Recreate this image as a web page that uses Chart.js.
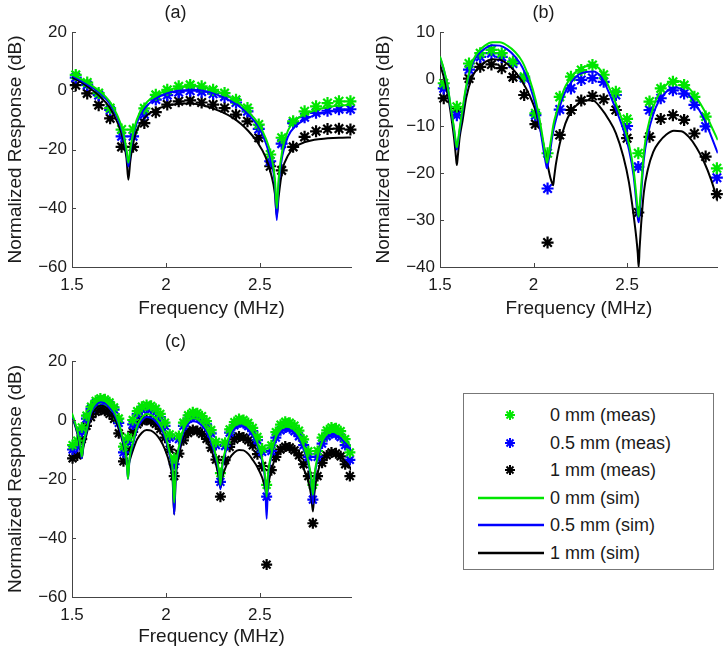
<!DOCTYPE html>
<html>
<head>
<meta charset="utf-8">
<script src="https://cdn.jsdelivr.net/npm/chart.js@4.4.0/dist/chart.umd.min.js"></script>
<style>
  body { margin: 0; background: #fff; width: 726px; height: 648px; position: relative; overflow: hidden;
         font-family: "Liberation Sans", Arial, Helvetica, sans-serif; }
  canvas { position: absolute; }
  #legend { position: absolute; left: 463px; top: 393px; width: 251px; height: 177px;
            border: 1px solid #777; box-sizing: border-box; background: #fff; }
  .row { position: absolute; left: 0; width: 100%; height: 24px; }
  .row svg { position: absolute; left: 13px; top: 0; }
  .row span { position: absolute; left: 86px; top: 0; line-height: 24px; font-size: 18px; color: #1a1a1a; white-space: nowrap; }
</style>
</head>
<body>
<canvas id="pa" width="360" height="322" style="left:0;top:0"></canvas>
<canvas id="pb" width="358" height="322" style="left:368px;top:0"></canvas>
<canvas id="pc" width="360" height="326" style="left:0;top:322px"></canvas>
<div id="legend"></div>
<script>
// tick labels
const xTickVals = [1.5, 2, 2.5];
const yTicksA = [20, 0, -20, -40, -60];
const yTicksB = [10, 0, -10, -20, -30, -40];
const yTicksC = [20, 0, -20, -40, -60];

const measLabels = ['0 mm (meas)', '0.5 mm (meas)', '1 mm (meas)'];
const simLabels = ['0 mm (sim)', '0.5 mm (sim)', '1 mm (sim)'];
const seriesColors = ['rgb(0,230,0)', 'rgb(0,0,255)', 'rgb(0,0,0)'];

// ---- panel (a) ----
const freqSimA = [1.5, 1.55, 1.6, 1.65, 1.7, 1.74, 1.77, 1.79, 1.8, 1.81, 1.83, 1.86, 1.9, 1.95, 2.0, 2.05, 2.1, 2.15, 2.2, 2.25,
  2.3, 2.35, 2.4, 2.44, 2.49, 2.53, 2.56, 2.58, 2.59, 2.6, 2.62, 2.65, 2.69, 2.74, 2.79, 2.84, 2.89, 2.94, 2.985];
const simA0 = [5.5, 3.9, 2.0, -0.3, -3.6, -8.2, -13.5, -20, -24.5, -20, -13, -7.5, -3.8, -1.4, 0, 0.9, 1.4, 1.6, 1.2, 0.4,
  -0.9, -2.6, -4.8, -7.2, -11, -16, -22, -30, -40, -30, -20, -13.5, -10, -8, -6.7, -5.9, -5.3, -5.0, -4.8];
const simA05 = [5.1, 3.4, 1.4, -0.9, -4.3, -9, -14.5, -21, -25.8, -21, -14, -8.8, -5, -2.5, -1.0, -0.2, 0.2, 0.3, -0.1, -0.9,
  -2.1, -3.7, -5.8, -8.2, -12, -17.5, -24, -32, -44, -32, -22, -15.5, -12, -9.8, -8.4, -7.5, -7.0, -6.7, -6.5];
const simA1 = [4.6, 2.8, 0.6, -2, -5.6, -10.5, -16, -23, -30.3, -24, -16.5, -11.5, -8.3, -6.3, -5.2, -4.6, -4.3, -4.4, -5.0, -6.0,
  -7.3, -9, -11.3, -13.8, -17.8, -22.5, -28.5, -35, -42.7, -36, -27, -22, -19, -17.5, -16.7, -16.3, -16.1, -16.0, -15.9];
const freqMeasA = [1.520, 1.581, 1.642, 1.703, 1.764, 1.825, 1.885, 1.946, 2.007, 2.068, 2.129, 2.190, 2.251, 2.312, 2.373,
  2.434, 2.494, 2.555, 2.616, 2.677, 2.738, 2.799, 2.860, 2.921, 2.982];
const measA0 = [5.4, 2.8, -0.8, -5.9, -13.2, -13.2, -6.0, -1.4, 0.3, 1.5, 2.0, 1.5, 0.3, -0.8, -3.1, -5.9, -11.5, -21.7, -16.0,
  -10.4, -7.0, -5.3, -4.2, -3.6, -3.6];
const measA05 = [4.5, 2.0, -1.5, -6.5, -15.5, -15.5, -8.0, -3.0, -1.5, -0.5, 0.0, -0.3, -1.0, -2.0, -4.0, -7.0, -13.0, -24.0, -18.0,
  -11.0, -9.0, -7.5, -6.8, -6.3, -6.3];
const measA1 = [1.9, -0.9, -4.9, -9.4, -19.1, -19.1, -11.0, -7.3, -4.7, -3.6, -3.3, -4.0, -4.7, -5.9, -8.1, -10.4, -16.0, -25.7, -27.1,
  -19.1, -15.7, -13.8, -13.0, -12.9, -13.2];

// ---- panel (b) ----
const freqSimB = [1.5, 1.52, 1.54, 1.56, 1.575, 1.585, 1.59, 1.595, 1.605, 1.62, 1.64, 1.67, 1.7, 1.74, 1.78, 1.82, 1.86, 1.9, 1.94, 1.98,
  2.01, 2.035, 2.055, 2.065, 2.072, 2.08, 2.09, 2.1, 2.105, 2.11, 2.12, 2.14, 2.17, 2.2, 2.24, 2.28, 2.32, 2.36, 2.4, 2.44,
  2.48, 2.51, 2.535, 2.55, 2.557, 2.562, 2.567, 2.575, 2.59, 2.61, 2.64, 2.67, 2.71, 2.75, 2.79, 2.83, 2.87, 2.91, 2.95, 2.985];
const simB0 = [4.8, 2.2, -1.3, -6.5, -10.5, -13.5, -14.5, -13.5, -10.5, -6.5, -1.5, 3.3, 5.6, 7.1, 7.8, 7.8, 7.1, 5.8, 3.7, -0.2,
  -4.3, -9.2, -14, -16.5, -17.8, -16.3, -13.8, -11.2, -10, -9, -7.5, -4.8, -1.6, 0.3, 2, 2.7, 2.8, 1.8, -1.4, -5.2,
  -9.5, -13.8, -19.4, -25, -28, -29.3, -27, -23, -15.5, -10.5, -6, -3.2, -1.2, -0.3, -0.6, -1.9, -3.9, -6.5, -10, -13];
const simB05 = [4.6, 2.0, -1.6, -6.8, -10.8, -14, -15, -14, -11, -7, -2, 2.8, 5.0, 6.5, 7.2, 7.1, 6.3, 4.8, 2.5, -1.4,
  -5.5, -10.5, -15.5, -17.8, -19, -17.5, -15, -12.3, -11.2, -10.2, -8.6, -5.9, -2.7, -0.8, 0.9, 1.5, 1.6, 0.5, -2.6, -6.4,
  -10.7, -15, -20.6, -26.5, -29.5, -30.5, -28.5, -24.5, -17, -12, -7.5, -4.7, -2.7, -1.8, -2.1, -3.4, -5.6, -8.4, -12.2, -15.8];
const simB1 = [3.0, 0.5, -3, -8, -12.5, -16.5, -18.3, -16.5, -12.5, -9, -4, 0.2, 2.2, 3.6, 4.2, 4.1, 3.2, 1.6, -0.6, -3.6,
  -6.6, -10.5, -14.2, -16.2, -17.6, -19.2, -21, -22.2, -22.6, -21, -18, -13.8, -9.5, -7, -5.2, -4.5, -4.6, -6.2, -8.5, -11.5,
  -16.5, -22, -29, -34, -37, -40, -36, -31, -24, -19.4, -15.5, -13.5, -11.8, -11, -11.1, -12.3, -14.5, -17.5, -21.5, -26];
const freqMeasB = [1.52, 1.59, 1.655, 1.715, 1.775, 1.83, 1.89, 1.95, 2.01, 2.075, 2.14, 2.20, 2.255, 2.315, 2.375,
  2.44, 2.50, 2.56, 2.62, 2.68, 2.745, 2.805, 2.86, 2.92, 2.98];
const measB0 = [-0.9, -5.9, 3.3, 5.5, 6.2, 5.5, 3.7, 0.5, -7.3, -15.8, -3.8, 0.5, 1.9, 3.0, 0.9, -2.7, -8.5, -15.8, -4.8,
  -2.0, -0.6, -1.3, -3.8, -8.0, -19.0];
const measB05 = [-2.0, -7.7, 2.0, 4.7, 5.5, 4.7, 3.3, 0.2, -7.7, -23.3, -6.5, -2.0, -0.2, 0.2, -0.6, -3.4, -10.0, -18.7, -6.6,
  -4.1, -2.4, -3.1, -5.5, -10.1, -21.0];
const measB1 = [-4.1, -7.0, 0.1, 2.6, 3.1, 2.3, 0.4, -3.4, -9.6, -34.8, -11.9, -6.6, -4.6, -3.6, -4.3, -6.6, -12.6, -28.4, -12.3,
  -8.5, -7.7, -8.7, -11.6, -16.5, -24.5];

// ---- panel (c) ----
const freqSimC = [1.5, 1.528, 1.544, 1.552, 1.560, 1.577, 1.601, 1.626, 1.651, 1.675,
  1.700, 1.724, 1.749, 1.774, 1.790, 1.798, 1.806, 1.823, 1.847, 1.872,
  1.897, 1.921, 1.946, 1.970, 1.995, 2.020, 2.036, 2.044, 2.052, 2.069,
  2.093, 2.118, 2.143, 2.167, 2.192, 2.216, 2.241, 2.266, 2.282, 2.290,
  2.298, 2.315, 2.339, 2.364, 2.389, 2.413, 2.438, 2.462, 2.487, 2.512,
  2.528, 2.536, 2.544, 2.561, 2.585, 2.610, 2.635, 2.659, 2.684, 2.708,
  2.733, 2.758, 2.774, 2.782, 2.790, 2.807, 2.831, 2.856, 2.881, 2.905,
  2.930, 2.954, 2.979, 2.985];
const simC0 = [2.3, -3.5, -8.5, -12.4, -8, -3.5, 3, 5.8, 6.8, 6.5,
  5, 3, -1, -7, -13, -20, -13, -8, -2, 0.8,
  2.0, 1.7, 0.5, -1.5, -5, -11, -17, -28, -17, -9,
  -3.2, -0.4, 0.6, 0.3, -1, -3, -6.5, -12, -17, -22,
  -16, -10.5, -4.8, -2.1, -1.1, -1.2, -2.3, -4.3, -7.8, -13,
  -19, -26, -18, -11.5, -5.8, -3.2, -2.3, -2.4, -3.4, -5.3,
  -8.8, -14, -20, -25.4, -19, -12.5, -7.3, -4.8, -4.0, -4.2,
  -5.2, -6.8, -8.5, -9];
const simC05 = [1.8, -4, -9, -13, -8.5, -4, 2.3, 5, 6, 5.7,
  4.2, 2.2, -1.8, -7.8, -13.5, -20, -13.5, -8.8, -3, -0.2,
  1.0, 0.7, -0.5, -2.5, -6, -12, -18.5, -32, -18.5, -10,
  -4.2, -1.4, -0.4, -0.7, -2, -4, -7.5, -13, -18, -23.5,
  -17, -11.5, -5.8, -3.1, -2.1, -2.2, -3.3, -5.3, -8.8, -14,
  -21, -33.5, -20, -12.5, -6.8, -4.2, -3.3, -3.4, -4.4, -6.3,
  -9.8, -15, -21, -28.5, -20, -13.5, -8.3, -5.8, -5.0, -5.2,
  -6.2, -7.8, -9.5, -10.3];
const simC1 = [1.3, -4.5, -9.5, -13, -9.5, -5, 1, 3.8, 4.8, 4.5,
  3, 1, -3, -8.5, -13, -16, -14, -10.5, -6.5, -4.3,
  -3.4, -3.6, -4.8, -6.8, -10, -15, -21, -32, -20, -12,
  -6, -3.3, -2.5, -2.8, -4.2, -6.5, -10, -15, -19.5, -23,
  -20, -16.5, -13, -11, -10.2, -10.3, -11.5, -13.5, -16, -19.5,
  -23, -25, -22, -17, -12.5, -10.3, -9.6, -9.8, -11, -13,
  -16.5, -21, -26, -31, -25, -18, -13.5, -11.8, -11.3, -11.5,
  -12.5, -14, -16, -17];
const freqMeasC = [1.503, 1.528, 1.552, 1.577, 1.601, 1.626, 1.651, 1.675, 1.700, 1.724,
  1.749, 1.774, 1.798, 1.823, 1.847, 1.872, 1.897, 1.921, 1.946, 1.970,
  1.995, 2.020, 2.044, 2.069, 2.093, 2.118, 2.143, 2.167, 2.192, 2.216,
  2.241, 2.266, 2.290, 2.315, 2.339, 2.364, 2.389, 2.413, 2.438, 2.462,
  2.487, 2.512, 2.536, 2.561, 2.585, 2.610, 2.635, 2.659, 2.684, 2.708,
  2.733, 2.758, 2.782, 2.807, 2.831, 2.856, 2.881, 2.905, 2.930, 2.954, 2.979];
const measC0 = [-8.5, -7, -2.5, 1.5, 4.5, 6.5, 7.3, 7.0, 6.0, 4.3, 0.5, -9, -6, 0, 3.0, 4.5, 5.1, 4.8, 3.8, 2.1, -0.9, -4.9, -13,
  -5.4, -0.9, 1.6, 2.6, 2.3, 1.3, -0.4, -3.4, -7.4, -18,
  -7.7, -3.2, -0.7, 0.3, 0, -1.0, -2.7, -5.7, -9.7, -22,
  -8.6, -4.1, -1.6, -0.6, -0.9, -1.9, -3.6, -6.6, -10.6, -22,
  -10.5, -6, -3.5, -2.5, -2.8, -3.8, -6.5, -11];
const measC05 = [-10, -9, -4, 0.5, 3.8, 5.7, 6.5, 6.2, 5.2, 3.5, -1, -11, -7.5, -1.5, 2.0, 3.5, 4.0, 3.7, 2.7, 1.0, -2.0, -6.0, -15,
  -6.5, -2.0, 0.5, 1.5, 1.2, 0.2, -1.5, -4.5, -8.5, -21,
  -8.8, -4.3, -1.8, -0.8, -1.1, -2.1, -3.8, -6.8, -10.8, -26,
  -10.5, -6.0, -3.5, -2.5, -2.8, -3.8, -5.5, -8.5, -12.5, -27,
  -12.5, -8.0, -5.5, -4.5, -4.8, -5.8, -8.5, -13.5];
const measC1 = [-13, -12, -6.5, -2, 1, 2.8, 3.4, 3.1, 2.1, 0.4, -4.5, -14, -10, -4, -1.5, -0.3, 0, -0.3, -1.3, -3, -6, -10, -19,
  -11.4, -6.9, -4.4, -3.4, -3.7, -4.7, -6.4, -9.4, -13.4, -26,
  -13.6, -9.1, -6.6, -5.6, -5.9, -6.9, -8.6, -11.6, -15.6, -49,
  -17, -12.5, -10, -9, -9.3, -10.3, -12, -15, -19, -35,
  -19, -14.5, -12, -11, -11.3, -12.3, -15, -19];

Chart.defaults.font.family = '"Liberation Sans", Arial, Helvetica, sans-serif';
Chart.defaults.color = '#1a1a1a';

function fmt(v) {
  return v < 0 ? '\u2212' + Math.abs(v) : String(v);
}

// matlab style ticks pointing into the plot
const inwardTicks = {
  id: 'inwardTicks',
  afterDraw(chart) {
    const { ctx, chartArea, scales } = chart;
    ctx.save();
    ctx.strokeStyle = '#444';
    ctx.lineWidth = 1;
    ctx.beginPath();
    scales.x.ticks.forEach(t => {
      const px = Math.round(scales.x.getPixelForValue(t.value)) + 0.5;
      ctx.moveTo(px, chartArea.bottom);
      ctx.lineTo(px, chartArea.bottom - 4);
    });
    scales.y.ticks.forEach(t => {
      const py = Math.round(scales.y.getPixelForValue(t.value)) + 0.5;
      ctx.moveTo(chartArea.left, py);
      ctx.lineTo(chartArea.left + 4, py);
    });
    ctx.stroke();
    ctx.restore();
  }
};

function panel(canvasId, opt) {
  const datasets = [];
  for (let i = 0; i < 3; i++) {
    datasets.push({
      label: simLabels[i],
      data: opt.simX.map((x, j) => ({ x: x, y: opt.sim[i][j] })),
      borderColor: seriesColors[i],
      borderWidth: 2,
      pointRadius: 0,
      cubicInterpolationMode: 'monotone',
      fill: false
    });
  }
  for (let i = 0; i < 3; i++) {
    datasets.push({
      label: measLabels[i],
      data: opt.measX.map((x, j) => ({ x: x, y: opt.meas[i][j] })),
      showLine: false,
      pointStyle: 'star',
      pointRadius: opt.starSize,
      pointHoverRadius: opt.starSize,
      borderColor: seriesColors[i],
      backgroundColor: seriesColors[i],
      pointBorderWidth: 2.2,
      clip: 8
    });
  }

  return new Chart(document.getElementById(canvasId), {
    type: 'line',
    data: { datasets: datasets },
    options: {
      responsive: false,
      animation: false,
      devicePixelRatio: 1,
      layout: { padding: { left: 0, right: opt.rightPad, top: 0, bottom: 0 } },
      plugins: {
        legend: { display: false },
        tooltip: { enabled: false },
        title: {
          display: true,
          text: opt.title,
          font: { size: 18, weight: 'normal' },
          color: '#1a1a1a',
          padding: opt.titlePad
        }
      },
      scales: {
        x: {
          type: 'linear',
          min: 1.5,
          max: 2.985,
          afterBuildTicks: s => { s.ticks = xTickVals.map(v => ({ value: v })); },
          afterFit: s => { s.height = opt.xAxisHeight; },
          grid: { display: false, drawTicks: false },
          border: { display: true, color: '#444', width: 1 },
          ticks: { font: { size: 17 }, padding: 8, maxRotation: 0, autoSkip: false, callback: v => fmt(v) },
          title: { display: true, text: 'Frequency (MHz)', font: { size: 19 }, padding: { top: 0, bottom: opt.xTitleBottom } }
        },
        y: {
          type: 'linear',
          min: opt.yTicks[opt.yTicks.length - 1],
          max: opt.yTicks[0],
          afterBuildTicks: s => { s.ticks = opt.yTicks.map(v => ({ value: v })); },
          afterFit: s => { s.width = 72; },
          grid: { display: false, drawTicks: false },
          border: { display: true, color: '#444', width: 1 },
          ticks: { font: { size: 17 }, padding: 5, autoSkip: false, callback: v => fmt(v) },
          title: { display: true, text: 'Normalized Response (dB)', font: { size: 19 }, padding: { top: 4, bottom: 0 } }
        }
      }
    },
    plugins: [inwardTicks]
  });
}

panel('pa', {
  title: '(a)', simX: freqSimA, sim: [simA0, simA05, simA1],
  measX: freqMeasA, meas: [measA0, measA05, measA1], yTicks: yTicksA,
  starSize: 6, rightPad: 9, titlePad: { top: 2, bottom: 8.4 }, xAxisHeight: 55, xTitleBottom: 2
});
panel('pb', {
  title: '(b)', simX: freqSimB, sim: [simB0, simB05, simB1],
  measX: freqMeasB, meas: [measB0, measB05, measB1], yTicks: yTicksB,
  starSize: 6, rightPad: 7, titlePad: { top: 2, bottom: 8.4 }, xAxisHeight: 55, xTitleBottom: 2
});
panel('pc', {
  title: '(c)', simX: freqSimC, sim: [simC0, simC05, simC1],
  measX: freqMeasC, meas: [measC0, measC05, measC1], yTicks: yTicksC,
  starSize: 5.5, rightPad: 9, titlePad: { top: 9, bottom: 8.4 }, xAxisHeight: 51, xTitleBottom: 0
});

// legend box
const legendBox = document.getElementById('legend');
const legendItems = measLabels.map((t, i) => ({ text: t, color: seriesColors[i], star: true }))
  .concat(simLabels.map((t, i) => ({ text: t, color: seriesColors[i], star: false })));
legendItems.forEach((item, i) => {
  const row = document.createElement('div');
  row.className = 'row';
  row.style.top = (9 + i * 27.6) + 'px';
  let mark;
  if (item.star) {
    const r = 5, d = 3.5, cx = 33, cy = 12;
    mark = '<path d="M' + (cx - r) + ' ' + cy + 'H' + (cx + r) + 'M' + cx + ' ' + (cy - r) + 'V' + (cy + r) +
      'M' + (cx - d) + ' ' + (cy - d) + 'L' + (cx + d) + ' ' + (cy + d) +
      'M' + (cx - d) + ' ' + (cy + d) + 'L' + (cx + d) + ' ' + (cy - d) + '" stroke="' + item.color + '" stroke-width="2" fill="none"/>';
  } else {
    mark = '<line x1="1" y1="12" x2="67" y2="12" stroke="' + item.color + '" stroke-width="2.5"/>';
  }
  row.innerHTML = '<svg width="68" height="24">' + mark + '</svg><span>' + item.text + '</span>';
  legendBox.appendChild(row);
});
</script>
</body>
</html>
